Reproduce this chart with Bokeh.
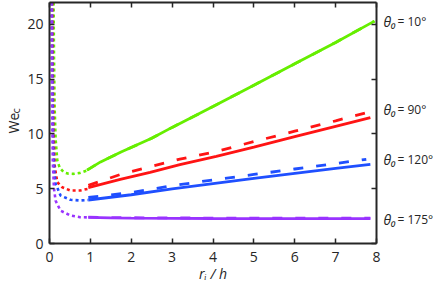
from bokeh.plotting import figure
from bokeh.models import Range1d, LinearAxis, FixedTicker
from bokeh.embed import file_html
from bokeh.resources import INLINE

# ---------------- data ----------------
x_ticks = [0, 1, 2, 3, 4, 5, 6, 7, 8]
y_ticks = [0, 5, 10, 15, 20]

theta_names = ["10", "90", "120", "175"]
colors = ["#66EE00", "#FF1414", "#1F4FFF", "#9933FF"]
label_we = [20.3, 12.2, 7.7, 2.2]
sub_c_at = [12.1]

# theta0 = 10 deg
x_small_10 = [0.1, 0.11, 0.125, 0.15, 0.19, 0.25, 0.35, 0.45, 0.59, 0.75, 0.92]
we_small_10 = [22, 17, 12.5, 9.5, 7.6, 6.9, 6.5, 6.38, 6.36, 6.45, 6.67]
x_solid_10 = [0.92, 1.25, 1.75, 2.5, 3, 4, 5, 6, 7, 7.95]
we_solid_10 = [6.7, 7.45, 8.35, 9.6, 10.6, 12.5, 14.45, 16.4, 18.35, 20.3]
x_dash_10 = [0.92, 1.25, 1.75, 2.5, 3, 4, 5, 6, 7, 7.95]
we_dash_10 = [6.7, 7.45, 8.35, 9.6, 10.6, 12.5, 14.45, 16.4, 18.35, 20.3]

# theta0 = 90 deg
x_small_90 = [0.07, 0.08, 0.1, 0.13, 0.19, 0.31, 0.51, 0.75, 0.95]
we_small_90 = [22, 16, 10, 7, 5.6, 5.14, 4.84, 4.84, 5.0]
x_solid_90 = [0.95, 1.73, 2.46, 3.19, 4.08, 5, 6, 7, 7.85]
we_solid_90 = [5.1, 5.85, 6.5, 7.2, 7.95, 8.8, 9.75, 10.7, 11.5]
x_dash_90 = [0.95, 1.73, 2.46, 3.19, 4.08, 5, 6, 7, 7.97]
we_dash_90 = [5.3, 6.3, 7.0, 7.7, 8.4, 9.3, 10.25, 11.2, 12.15]

# theta0 = 120 deg
x_small_120 = [0.06, 0.07, 0.09, 0.12, 0.15, 0.27, 0.51, 0.75, 0.95]
we_small_120 = [22, 15, 9, 6.5, 5.45, 4.38, 3.99, 3.93, 3.97]
x_solid_120 = [0.95, 2, 3, 4, 5, 6, 7, 7.85]
we_solid_120 = [3.97, 4.45, 4.98, 5.47, 5.95, 6.4, 6.85, 7.22]
x_dash_120 = [0.95, 2, 3, 4, 5, 6, 7, 7.75]
we_dash_120 = [4.2, 4.65, 5.28, 5.8, 6.3, 6.8, 7.3, 7.68]

# theta0 = 175 deg
x_small_175 = [0.05, 0.06, 0.08, 0.11, 0.15, 0.27, 0.51, 0.75, 0.95]
we_small_175 = [22, 14, 7.5, 5, 3.9, 3.0, 2.56, 2.4, 2.38]
x_solid_175 = [0.95, 1.5, 2, 3, 4, 5, 6, 7, 7.85]
we_solid_175 = [2.38, 2.34, 2.32, 2.3, 2.28, 2.27, 2.27, 2.27, 2.27]
x_dash_175 = [0.95, 1.5, 2, 3, 4, 5, 6, 7, 7.85]
we_dash_175 = [2.4, 2.37, 2.35, 2.33, 2.32, 2.31, 2.31, 2.31, 2.31]

series = [
    (x_small_10, we_small_10, x_solid_10, we_solid_10, x_dash_10, we_dash_10),
    (x_small_90, we_small_90, x_solid_90, we_solid_90, x_dash_90, we_dash_90),
    (x_small_120, we_small_120, x_solid_120, we_solid_120, x_dash_120, we_dash_120),
    (x_small_175, we_small_175, x_solid_175, we_solid_175, x_dash_175, we_dash_175),
]

# ---------------- figure ----------------
TXT = "#262626"
FONT = "Open Sans"

p = figure(width=436, height=296, output_backend="svg", toolbar_location=None,
           x_range=Range1d(0, 8), y_range=Range1d(0, 22),
           min_border_left=49, min_border_right=58, min_border_top=2, min_border_bottom=53)
p.outline_line_color = None
p.grid.visible = False
p.background_fill_color = "white"
p.border_fill_color = "white"

bottom_axis = p.below[0]
left_axis = p.left[0]
top_axis = LinearAxis()
right_axis = LinearAxis()
p.add_layout(top_axis, "above")
p.add_layout(right_axis, "right")

bottom_axis.ticker = FixedTicker(ticks=x_ticks)
top_axis.ticker = FixedTicker(ticks=x_ticks)
left_axis.ticker = FixedTicker(ticks=y_ticks)
right_axis.ticker = FixedTicker(ticks=y_ticks)

for ax in [bottom_axis, left_axis, top_axis, right_axis]:
    ax.axis_line_color = TXT
    ax.axis_line_width = 2
    ax.major_tick_line_color = TXT
    ax.major_tick_line_width = 1.5
    ax.major_tick_in = 5
    ax.major_tick_out = 0
    ax.minor_tick_line_color = None
    ax.major_label_text_font = FONT
    ax.major_label_text_font_size = "14px"
    ax.major_label_text_color = TXT

bottom_axis.major_label_standoff = 8
left_axis.major_label_standoff = 6
top_axis.major_label_overrides = {t: "" for t in x_ticks}
right_axis.major_label_overrides = {t: "" for t in y_ticks}
for ax in [top_axis, right_axis]:
    ax.major_label_text_font_size = "1px"
    ax.major_label_standoff = 0

# x axis title  r_i / h
bottom_axis.axis_label = "rᵢ / h"
bottom_axis.axis_label_text_font = FONT
bottom_axis.axis_label_text_font_style = "italic"
bottom_axis.axis_label_text_font_size = "14px"
bottom_axis.axis_label_text_color = TXT
bottom_axis.axis_label_standoff = -1


def text_axis(ticks, labels, font_size, style, standoff):
    ax = LinearAxis(ticker=FixedTicker(ticks=ticks),
                    major_label_overrides=dict(zip(ticks, labels)))
    ax.axis_line_color = None
    ax.major_tick_line_color = None
    ax.minor_tick_line_color = None
    ax.major_label_text_font = FONT
    ax.major_label_text_font_size = font_size
    ax.major_label_text_font_style = style
    ax.major_label_text_color = TXT
    ax.major_label_standoff = standoff
    return ax


# y axis title  We_c  (subscript as its own label, title on the same outer axis)
we_axis = text_axis(sub_c_at, ["c"], "11px", "normal", -5)
we_axis.major_label_orientation = "vertical"
we_axis.axis_label = "We"
we_axis.axis_label_text_font = FONT
we_axis.axis_label_text_font_style = "normal"
we_axis.axis_label_text_font_size = "14px"
we_axis.axis_label_text_color = TXT
we_axis.axis_label_standoff = -17
p.add_layout(we_axis, "left")

# right-hand series labels  theta_0 = ...
theta_axis = text_axis(label_we, ["θ₀"] * len(label_we), "14px", "italic", 1)
value_axis = text_axis(label_we, ["= " + n + "°" for n in theta_names], "12px", "normal", -8)
p.add_layout(theta_axis, "right")
p.add_layout(value_axis, "right")

for (xs, ys, xso, yso, xd, yd), c in zip(series, colors):
    p.line(xs, ys, line_color=c, line_width=2.6, line_dash="3 3")
    p.line(xso, yso, line_color=c, line_width=2.8)
    p.line(xd, yd, line_color=c, line_width=2.8, line_dash="10 13")

open("out.html", "w").write(file_html(p, INLINE))
